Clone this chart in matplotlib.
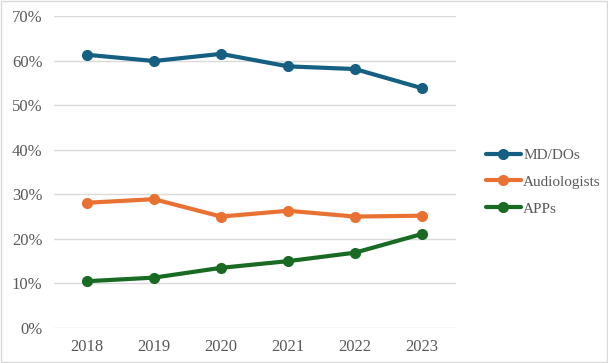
import numpy as np
import matplotlib.pyplot as plt
from matplotlib.ticker import PercentFormatter
from matplotlib.patches import Rectangle

years = ["2018", "2019", "2020", "2021", "2022", "2023"]
md_dos = [61.3, 59.9, 61.5, 58.7, 58.1, 53.8]
audiologists = [28.1, 28.9, 25.0, 26.3, 25.0, 25.2]
apps = [10.5, 11.3, 13.5, 15.0, 16.9, 21.1]

series = [("MD/DOs", md_dos, "#156082"),
          ("Audiologists", audiologists, "#E97132"),
          ("APPs", apps, "#196B24")]

plt.rcParams['font.family'] = ['Liberation Serif', 'DejaVu Serif']

fig = plt.figure(figsize=(6.08, 3.63), dpi=100)
ax = fig.add_axes([53.5 / 608, 1 - 328 / 363, (455.5 - 53.5) / 608, (328 - 16) / 363])

x = np.arange(len(years))
for name, vals, color in series:
    ax.plot(x, vals, color=color, lw=3, marker='o', ms=7, label=name,
            solid_capstyle='round')

ax.set_xlim(-0.5, len(years) - 0.5)
ax.set_ylim(0, 70)
ax.set_yticks(np.arange(0, 71, 10))
ax.yaxis.set_major_formatter(PercentFormatter(decimals=0))
ax.set_xticks(x)
ax.set_xticklabels(years)
ax.grid(axis='y', color='#d9d9d9', lw=1)
ax.set_axisbelow(True)
for s in ax.spines.values():
    s.set_visible(False)
ax.tick_params(length=0, labelsize=12, labelcolor='#595959', pad=8)

leg = fig.legend(loc='center left', bbox_to_anchor=(472 / 608, 1 - 182 / 363),
                 frameon=False, fontsize=11, handlelength=2.3,
                 handletextpad=0.15, labelspacing=0.85)
for t in leg.get_texts():
    t.set_color('#595959')

fig.patches.append(Rectangle((0.002, 0.003), 0.996, 0.994, transform=fig.transFigure,
                             fill=False, ec='#d9d9d9', lw=1))

fig.savefig("out.png", dpi=100)
